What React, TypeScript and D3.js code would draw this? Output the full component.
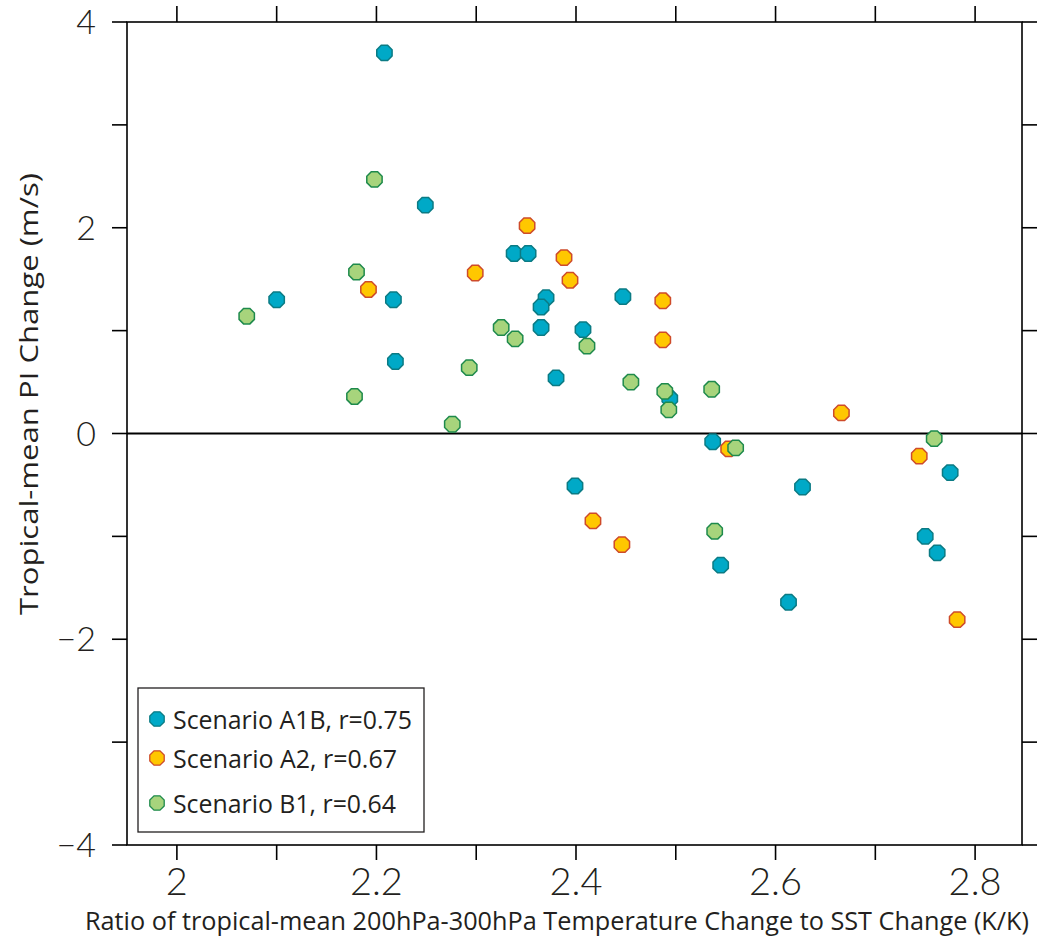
import React from "react";
import * as d3 from "d3";

const W = 1037;
const H = 936;

// Scenario A1B
const a1bX = [2.208, 2.249, 2.100, 2.217, 2.219, 2.338, 2.352, 2.370, 2.365, 2.365, 2.447, 2.407, 2.380, 2.494, 2.537, 2.399, 2.545, 2.627, 2.613, 2.775, 2.750, 2.762];
const a1bY = [3.70, 2.22, 1.30, 1.30, 0.70, 1.75, 1.75, 1.32, 1.23, 1.03, 1.33, 1.01, 0.54, 0.34, -0.08, -0.51, -1.28, -0.52, -1.64, -0.38, -1.00, -1.16];
// Scenario A2
const a2X = [2.351, 2.388, 2.299, 2.394, 2.192, 2.487, 2.487, 2.553, 2.417, 2.446, 2.666, 2.744, 2.782];
const a2Y = [2.02, 1.71, 1.56, 1.49, 1.40, 1.29, 0.91, -0.15, -0.85, -1.08, 0.20, -0.22, -1.81];
// Scenario B1
const b1X = [2.198, 2.180, 2.070, 2.325, 2.339, 2.411, 2.293, 2.178, 2.455, 2.489, 2.493, 2.536, 2.276, 2.560, 2.539, 2.759];
const b1Y = [2.47, 1.57, 1.14, 1.03, 0.92, 0.85, 0.64, 0.36, 0.50, 0.41, 0.23, 0.43, 0.09, -0.14, -0.95, -0.05];

const xTicks = [2.0, 2.1, 2.2, 2.3, 2.4, 2.5, 2.6, 2.7, 2.8];
const xTickLabels = ["2", "2.2", "2.4", "2.6", "2.8"];
const yTicks = [-4, -3, -2, -1, 0, 1, 2, 3, 4];
const yTickLabels = ["4", "2", "0", "\u22122", "\u22124"];

const seriesNames = ["Scenario A1B, r=0.75", "Scenario A2, r=0.67", "Scenario B1, r=0.64"];
const seriesFill = ["#00A9C7", "#FFC700", "#A7D47C"];
const seriesStroke = ["#0B7B84", "#CE4B2A", "#1E8A4C"];

const legendTextLen = [239, 224, 223];

function octagon(cx: number, cy: number, r: number) {
  const pts: [number, number][] = d3.range(8).map((i) => {
    const a = Math.PI / 8 + (i * Math.PI) / 4;
    return [cx + r * Math.cos(a), cy + r * Math.sin(a)];
  });
  return d3.line()(pts) + "Z";
}

export default function App() {
  const x = d3.scaleLinear().domain([1.95, 2.847]).range([127, 1022]);
  const y = d3.scaleLinear().domain([-4, 4]).range([845, 22]);
  const [x0, x1] = x.range();
  const [y0, y1] = y.range();

  const series = [
    { xs: a1bX, ys: a1bY },
    { xs: a2X, ys: a2Y },
    { xs: b1X, ys: b1Y },
  ];

  const font = "'Open Sans', 'Noto Sans', sans-serif";
  const numFont = "Lato, 'Open Sans', sans-serif";
  const textColor = "#231F20";

  return (
    <div style={{ position: "absolute", left: 0, top: 0 }}>
      <svg width={W} height={H} style={{ display: "block", background: "#fff" }}>
        {/* frame */}
        <rect x={x0} y={y1} width={x1 - x0} height={y0 - y1} fill="none" stroke="#000" strokeWidth={1.6} />
        {/* zero line */}
        <line x1={x0} x2={x1} y1={y(0)} y2={y(0)} stroke="#000" strokeWidth={1.8} />
        {/* ticks */}
        {xTicks.map((t) => (
          <g key={"xt" + t}>
            <line x1={x(t)} x2={x(t)} y1={y1} y2={y1 - 16} stroke="#000" strokeWidth={1.6} />
            <line x1={x(t)} x2={x(t)} y1={y0} y2={y0 + 15} stroke="#000" strokeWidth={1.6} />
          </g>
        ))}
        {yTicks.map((t) => (
          <g key={"yt" + t}>
            <line x1={x0 - 15} x2={x0} y1={y(t)} y2={y(t)} stroke="#000" strokeWidth={1.6} />
            <line x1={x1} x2={x1 + 15} y1={y(t)} y2={y(t)} stroke="#000" strokeWidth={1.6} />
          </g>
        ))}
        {/* tick labels */}
        {xTickLabels.map((l) => (
          <text
            key={"xl" + l}
            x={x(+l)}
            y={895}
            textAnchor="middle"
            fontFamily={numFont}
            fontWeight={300}
            fontSize={38}
            fill={textColor}
          >
            {l}
          </text>
        ))}
        {yTickLabels.map((l) => (
          <text
            key={"yl" + l}
            x={96}
            y={y(+l.replace("\u2212", "-")) + 12}
            textAnchor="end"
            fontFamily={numFont}
            fontWeight={300}
            fontSize={34}
            fill={textColor}
          >
            {l}
          </text>
        ))}
        {/* axis titles */}
        <text
          x={85}
          y={930}
          textLength={944}
          lengthAdjust="spacingAndGlyphs"
          fontFamily={font}
          fontSize={25.5}
          fill={textColor}
        >
          Ratio of tropical-mean 200hPa-300hPa Temperature Change to SST Change (K/K)
        </text>
        <text
          transform={`translate(38, 615) rotate(-90)`}
          textLength={442}
          lengthAdjust="spacingAndGlyphs"
          fontFamily={font}
          fontSize={25.5}
          fill={textColor}
        >
          Tropical-mean PI Change (m/s)
        </text>
        {/* points */}
        {series.map((s, si) => (
          <g key={"s" + si}>
            {s.xs.map((v, i) => (
              <path
                key={i}
                d={octagon(x(v), y(s.ys[i]), 8.3)}
                fill={seriesFill[si]}
                stroke={seriesStroke[si]}
                strokeWidth={1.5}
              />
            ))}
          </g>
        ))}
        {/* legend */}
        <rect x={138} y={688} width={286} height={144} fill="#fff" stroke="#231F20" strokeWidth={1.3} />
        {seriesNames.map((n, i) => {
          const cy = [719, 758, 803][i];
          return (
            <g key={"lg" + i}>
              <path d={octagon(157, cy, 7.8)} fill={seriesFill[i]} stroke={seriesStroke[i]} strokeWidth={1.3} />
              <text
                x={173}
                y={cy + 10}
                textLength={legendTextLen[i]}
                lengthAdjust="spacingAndGlyphs"
                fontFamily={font}
                fontSize={25.5}
                fill={textColor}
              >
                {n}
              </text>
            </g>
          );
        })}
      </svg>
    </div>
  );
}
